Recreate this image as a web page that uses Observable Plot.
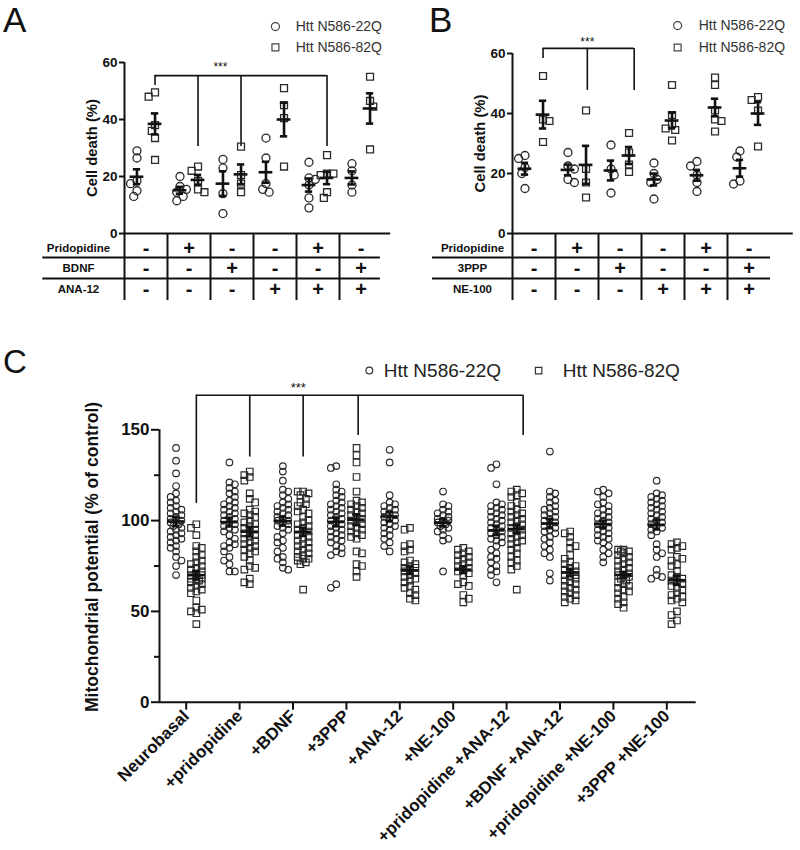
<!DOCTYPE html>
<html><head><meta charset="utf-8">
<script src="https://cdn.jsdelivr.net/npm/d3@7"></script>
<script src="https://cdn.jsdelivr.net/npm/@observablehq/plot@0.6"></script>
<style>
body{margin:0;background:#fff;font-family:"Liberation Sans",Arial,sans-serif}
#fig{position:relative;width:800px;height:850px;overflow:hidden;background:#fff}
.panel{position:absolute}
.letter{position:absolute;color:#111;font-family:"Liberation Sans",Arial,sans-serif;line-height:normal}
</style></head>
<body><div id="fig">
<div class="letter" style="left:3px;top:0;font-size:35px">A</div>
<div class="letter" style="left:429px;top:0;font-size:35px">B</div>
<div class="letter" style="left:3px;top:343px;font-size:33px">C</div>
<div class="panel" id="pA" style="left:0;top:0"></div>
<div class="panel" id="pB" style="left:400px;top:0"></div>
<div class="panel" id="pC" style="left:0;top:340px"></div>
</div>
<script>
// ---------------- DATA ----------------
const seriesNames = ["Htt N586-22Q", "Htt N586-82Q"];

// Panel A: cell death (%), six conditions
const rowLabelsA = ["Pridopidine", "BDNF", "ANA-12"];
const tableA_pridopidine = ["-", "+", "-", "-", "+", "-"];
const tableA_bdnf        = ["-", "-", "+", "-", "-", "+"];
const tableA_ana12       = ["-", "-", "-", "+", "+", "+"];
const cellDeathA_22Q = [
  [29, 26.5, 18.5, 17.5, 15, 13],
  [20, 16.5, 15.5, 14.5, 13, 11.5],
  [23, 26, 14, 7],
  [33.5, 26.5, 17.5, 15.5, 14.5],
  [25, 9, 12.5, 19, 17, 19.5],
  [24.5, 22, 14.5, 17]
];
const cellDeathA_82Q = [
  [49.5, 48, 36, 33.5, 25.8, 38],
  [23.5, 22, 18.5, 15.5, 14.5],
  [30.5, 14.5, 17.5, 20.5],
  [51, 45, 40.5, 23.5],
  [27.5, 12.5, 14.5, 21, 20.5, 21],
  [55, 46.5, 44.5, 29.5]
];

// Panel B: cell death (%), six conditions
const rowLabelsB = ["Pridopidine", "3PPP", "NE-100"];
const tableB_pridopidine = ["-", "+", "-", "-", "+", "-"];
const tableB_3ppp        = ["-", "-", "+", "-", "-", "+"];
const tableB_ne100       = ["-", "-", "-", "+", "+", "+"];
const cellDeathB_22Q = [
  [25, 26, 22, 20, 15],
  [27, 17, 18, 22.5, 21.5],
  [29.5, 21.5, 13.5, 19.5],
  [23.5, 20, 17, 11.5, 18],
  [24, 22.5, 17, 14, 19.5],
  [27.5, 25.5, 16.5, 17.5]
];
const cellDeathB_82Q = [
  [52.5, 38, 37.5, 30.5],
  [41, 12, 17, 21.5],
  [33.5, 20.5, 23, 27],
  [49.5, 36.5, 34.5, 31, 39.5, 35],
  [49.5, 52, 37.5, 34, 38, 41],
  [44.5, 45.5, 41, 29]
];

// Panel C: mitochondrial potential (% of control), ten conditions
const conditionsC = ["Neurobasal", "+pridopidine", "+BDNF", "+3PPP", "+ANA-12", "+NE-100",
  "+pridopidine +ANA-12", "+BDNF +ANA-12", "+pridopidine +NE-100", "+3PPP +NE-100"];
const mitoC_22Q = [
  [140,133,126,119,115,113,111,110,108,107,106,105,104,103,102,101,100,100,99,98,97,96,95,94,93,92,91,90,89,88,86,85,83,80,78,75,70],
  [132,121,120,118,116,115,113,111,110,109,108,107,106,105,104,103,102,101,100,99,98,97,96,95,94,92,90,88,87,86,85,83,80,78,76,72,72],
  [130,127,122,117,116,114,112,110,109,108,107,106,105,104,103,102,101,100,100,99,98,97,96,95,93,91,89,88,85,83,80,79,77,74,73],
  [130,129,120,117,116,114,113,111,110,109,108,107,106,105,104,103,102,101,100,99,98,97,96,95,94,93,92,91,90,89,88,86,85,83,82,81,65,63],
  [139,132,114,110,109,108,107,106,105,104,103,102,101,100,99,98,97,96,95,93,92,90,88,86,83],
  [116,109,108,106,105,104,103,102,101,100,100,99,98,97,96,95,94,92,90,89,72],
  [131,129,120,110,109,108,107,106,105,104,103,102,101,100,99,98,97,96,95,94,93,92,91,90,89,88,86,84,82,80,79,77,75,73,72,70,66],
  [138,116,115,113,111,110,108,107,106,105,104,103,102,101,100,99,98,97,96,95,94,93,91,90,88,86,84,82,80,71,67],
  [117,116,115,113,110,109,108,106,105,104,103,102,101,100,99,98,97,96,95,94,93,92,91,90,89,88,86,84,82,80,77],
  [122,115,114,113,112,111,110,109,108,107,106,105,104,103,102,101,100,99,98,97,96,95,94,92,87,84,82,80,73,70,69,68]
];
const mitoC_82Q = [
  [98,96,92,86,85,83,81,80,78,77,76,75,74,73,72,71,70,70,69,68,67,66,65,64,63,62,61,60,68,67,56,52,51,50,49,43],
  [127,125,124,122,115,112,110,106,105,104,103,102,100,99,98,97,96,95,94,93,92,91,90,89,88,87,86,85,84,83,82,80,78,75,74,73,68,66,65],
  [116,116,115,114,112,110,109,108,106,105,104,102,100,99,98,97,96,95,94,93,92,91,90,89,88,87,86,85,84,83,82,81,80,79,79,78,77,76,62],
  [140,136,132,124,116,111,110,109,108,107,106,105,104,103,102,101,100,99,98,97,96,95,94,93,92,91,90,83,82,76,75,72,69],
  [96,95,87,86,84,83,78,77,76,75,74,74,73,72,71,70,69,68,67,66,64,63,62,60,59,57,56],
  [85,84,83,82,81,80,79,78,77,76,75,74,73,72,71,70,66,65,64,59,57,55],
  [117,116,115,114,113,110,109,108,106,105,104,103,102,101,100,99,98,97,96,95,94,93,92,91,90,89,88,87,85,84,82,80,78,77,75,73,62],
  [94,93,91,88,86,85,81,79,77,76,75,74,73,72,71,70,70,69,68,67,66,65,64,63,62,61,60,59,58,57,56,55],
  [84,84,83,83,82,81,80,79,78,77,76,75,74,73,72,71,70,70,69,68,67,66,65,64,63,62,61,60,58,57,55,54,52],
  [88,87,86,85,84,80,79,78,76,75,72,70,69,68,67,66,65,64,63,62,60,59,58,57,56,55,50,48,45,43]
];

// ---------------- HELPERS ----------------
const FONT = '"Liberation Sans", Arial, sans-serif';
const INK = "#111";

// deterministic beeswarm-like spreading of overlapping points (pixel-space)
function swarmOffsets(values, kY, kX, minDist, step, maxSteps) {
  const order = values.map((v, i) => i).sort((a, b) => values[b] - values[a] || a - b);
  const placed = [];
  const out = new Array(values.length).fill(0);
  let flip = 1;
  for (const i of order) {
    const py = values[i] * kY;
    let best = 0, bestD = -1;
    for (let k = 0; k <= 2 * maxSteps; k++) {
      const s = k === 0 ? 0 : (k % 2 ? 1 : -1) * flip * Math.ceil(k / 2);
      const px = s * step;
      let dmin = Infinity;
      for (const p of placed) dmin = Math.min(dmin, Math.hypot(p[0] - px, p[1] - py));
      if (dmin >= minDist) { best = px; bestD = Infinity; break; }
      if (dmin > bestD) { bestD = dmin; best = px; }
    }
    flip = -flip;
    placed.push([best, py]);
    out[i] = best / kX;
  }
  return out;
}
function buildPoints(g22, g82, off, kY, kX, minDist, step, maxSteps) {
  const pts = [];
  [[g22, 0, -off], [g82, 1, off]].forEach(([gs, s, o]) => gs.forEach((vals, g) => {
    const j = swarmOffsets(vals, kY, kX, minDist, step, maxSteps);
    vals.forEach((v, i) => pts.push({g, s, x: g + o + j[i], y: v}));
  }));
  return pts;
}
function buildStats(g22, g82, off) {
  const st = [];
  [[g22, -off], [g82, off]].forEach(([gs, o]) => gs.forEach((vals, g) => {
    const m = d3.mean(vals), sem = d3.deviation(vals) / Math.sqrt(vals.length);
    st.push({x: g + o, mean: m, lo: m - sem, hi: m + sem});
  }));
  return st;
}
function statMarks(st, halfW, capW, sw) {
  return [
    Plot.ruleY(st, {y: "mean", x1: d => d.x - halfW, x2: d => d.x + halfW, stroke: INK, strokeWidth: sw}),
    Plot.ruleX(st, {x: "x", y1: "lo", y2: "hi", stroke: INK, strokeWidth: sw}),
    Plot.ruleY(st, {y: "hi", x1: d => d.x - capW, x2: d => d.x + capW, stroke: INK, strokeWidth: sw}),
    Plot.ruleY(st, {y: "lo", x1: d => d.x - capW, x2: d => d.x + capW, stroke: INK, strokeWidth: sw})
  ];
}
function dotMarks(pts, rC, rS, sw) {
  return [
    Plot.dot(pts.filter(d => d.s === 0), {x: "x", y: "y", r: rC, symbol: "circle", fill: "none", stroke: "#2a2a2a", strokeWidth: sw}),
    Plot.dot(pts.filter(d => d.s === 1), {x: "x", y: "y", r: rS, symbol: "square", fill: "none", stroke: "#2a2a2a", strokeWidth: sw})
  ];
}
function tableCells(rows) {
  const cells = [];
  rows.forEach((r, ri) => r.forEach((t, ci) => cells.push({row: ri, col: ci, t})));
  return cells;
}

// ---------------- PANEL A / B ----------------
function cellDeathPanel(opts) {
  const {g22, g82, rowLabels, rows, ml, mr, mt, yMin, kY, axisEndX, rowLineY, rowTextY,
         rowLineX1, rowLineX2, labelX, bracket, legendX, legendY} = opts;
  const kX = 43, off = 0.21;
  const pts = buildPoints(g22, g82, off, kY, kX, 6.2, 3.2, 2);
  const st = buildStats(g22, g82, off);
  const cells = tableCells(rows);
  return Plot.plot({
    width: 400, height: 310,
    marginLeft: ml, marginRight: mr, marginTop: mt, marginBottom: 10,
    x: {domain: [-0.5, 5.5], axis: null},
    y: {domain: [yMin, 60], axis: null},
    style: {fontFamily: FONT, overflow: "visible", background: "transparent"},
    marks: [
      Plot.axisY({ticks: [0, 20, 40, 60], tickSize: 5, tickPadding: 2, fontSize: 13.5, fontWeight: "bold",
                  stroke: INK, strokeWidth: 2, fill: INK, label: null}),
      Plot.ruleX([-0.5], {y1: yMin, y2: 60, stroke: INK, strokeWidth: 2}),
      Plot.ruleY([0], {x1: -0.5, x2: axisEndX, stroke: INK, strokeWidth: 2}),
      Plot.ruleY(rowLineY, {x1: rowLineX1, x2: rowLineX2, stroke: INK, strokeWidth: 2}),
      Plot.ruleX([0.5, 1.5, 2.5, 3.5, 4.5], {y1: 0, y2: yMin, stroke: INK, strokeWidth: 2}),
      Plot.text(cells, {x: "col", y: d => rowTextY[d.row], text: "t", fontSize: 20, fontWeight: "bold", fill: INK}),
      Plot.text(rowLabels, {x: labelX, y: (d, i) => rowTextY[i], text: d => d, fontSize: 11.5, fontWeight: "bold", fill: INK}),
      Plot.text(["Cell death (%)"], {x: -0.5, y: 30, dx: -32, rotate: -90, fontSize: 14.8, fontWeight: "bold", fill: INK}),
      // significance bracket
      Plot.ruleY([bracket.top], {x1: bracket.from, x2: d3.max(bracket.to), stroke: INK, strokeWidth: 1.6}),
      Plot.ruleX([bracket.from], {y1: bracket.fromEnd, y2: bracket.top, stroke: INK, strokeWidth: 1.6}),
      Plot.ruleX(bracket.to, {y1: bracket.toEnd, y2: bracket.top, stroke: INK, strokeWidth: 1.6}),
      Plot.text(["***"], {x: bracket.starX, y: bracket.starY, fontSize: 12, fill: INK}),
      ...dotMarks(pts, 4, 3.9, 1.3),
      ...statMarks(st, 0.16, 0.085, 2.6),
      // legend
      Plot.dot([0], {x: legendX[0], y: legendY[0], r: 4, symbol: "circle", fill: "none", stroke: "#444", strokeWidth: 1.2}),
      Plot.dot([0], {x: legendX[0], y: legendY[1], r: 3.9, symbol: "square", fill: "none", stroke: "#444", strokeWidth: 1.2}),
      Plot.text([seriesNames[0]], {x: legendX[1], y: legendY[0], text: d => d, textAnchor: "start", fontSize: 14, fill: "#333"}),
      Plot.text([seriesNames[1]], {x: legendX[1], y: legendY[1], text: d => d, textAnchor: "start", fontSize: 14, fill: "#333"})
    ]
  });
}

const plotA = cellDeathPanel({
  g22: cellDeathA_22Q, g82: cellDeathA_82Q, rowLabels: rowLabelsA,
  rows: [tableA_pridopidine, tableA_bdnf, tableA_ana12],
  ml: 124, mr: 18, mt: 62, yMin: -23.5, kY: 2.85, axisEndX: 5.69,
  rowLineY: [-8.4, -15.8], rowTextY: [-5.3, -12.3, -19.6],
  rowLineX1: -2.4, rowLineX2: 5.45, labelX: -1.57,
  bracket: {top: 55.4, from: 0.21, fromEnd: 51.9, to: [1.21, 2.21, 4.21], toEnd: 30.5, starX: 1.73, starY: 58.2},
  legendX: [3.01, 3.48], legendY: [72.6, 65.3]
});
const plotB = cellDeathPanel({
  g22: cellDeathB_22Q, g82: cellDeathB_82Q, rowLabels: rowLabelsB,
  rows: [tableB_pridopidine, tableB_3ppp, tableB_ne100],
  ml: 112, mr: 30, mt: 53, yMin: -22.33, kY: 3, axisEndX: 6.03,
  rowLineY: [-8, -15], rowTextY: [-5, -11.7, -18.7],
  rowLineX1: -2.36, rowLineX2: 5.5, labelX: -1.43,
  bracket: {top: 61.7, from: 0.21, fromEnd: 58.3, to: [1.24, 2.33], toEnd: 47.7, starX: 1.24, starY: 63.7},
  legendX: [3.34, 3.83], legendY: [69.3, 62]
});
document.getElementById("pA").append(plotA);
document.getElementById("pB").append(plotB);

// ---------------- PANEL C ----------------
{
  const kY = 1.817, kX = 53.4, off = 0.19;
  const pts = buildPoints(mitoC_22Q, mitoC_82Q, off, kY, kX, 5.2, 2.7, 2);
  const st = buildStats(mitoC_22Q, mitoC_82Q, off);
  const plotC = Plot.plot({
    width: 800, height: 510,
    marginLeft: 159, marginRight: 107, marginTop: 89.3, marginBottom: 148.3,
    x: {domain: [-0.5, 9.5], axis: null},
    y: {domain: [0, 150], axis: null},
    style: {fontFamily: FONT, overflow: "visible", background: "transparent"},
    marks: [
      Plot.axisY({ticks: [0, 50, 100, 150], tickSize: 8, tickPadding: 2, fontSize: 17, fontWeight: "bold",
                  stroke: INK, strokeWidth: 2, fill: INK, label: null}),
      Plot.axisY({ticks: [25, 75, 125], tickSize: 5, tickFormat: () => "", stroke: INK, strokeWidth: 2, label: null}),
      Plot.axisX({ticks: d3.range(conditionsC.length), tickFormat: i => conditionsC[i], tickRotate: -45,
                  tickSize: 8, tickPadding: 3, fontSize: 17, fontWeight: "bold",
                  stroke: INK, strokeWidth: 2, fill: INK, label: null}),
      Plot.ruleX([-0.5], {y1: 0, y2: 150, stroke: INK, strokeWidth: 2}),
      Plot.ruleY([0], {x1: -0.5, x2: 9.55, stroke: INK, strokeWidth: 2}),
      Plot.text(["Mitochondrial potential (% of control)"], {x: -0.5, y: 80, dx: -67, rotate: -90,
                  textAnchor: "middle", fontSize: 17.5, fontWeight: "bold", fill: INK}),
      // significance bracket
      Plot.ruleY([169], {x1: 0.19, x2: 6.31, stroke: INK, strokeWidth: 1.6}),
      Plot.ruleX([0.19], {y1: 109.5, y2: 169, stroke: INK, strokeWidth: 1.6}),
      Plot.ruleX([1.19, 2.19], {y1: 135, y2: 169, stroke: INK, strokeWidth: 1.6}),
      Plot.ruleX([3.22, 6.31], {y1: 146.8, y2: 169, stroke: INK, strokeWidth: 1.6}),
      Plot.text(["***"], {x: 2.1, y: 173, fontSize: 13, fill: INK}),
      ...dotMarks(pts, 3.3, 3.7, 1.15),
      ...statMarks(st, 0.16, 0.07, 2.6),
      // legend
      Plot.dot([0], {x: 3.43, y: 182.6, r: 3.4, symbol: "circle", fill: "none", stroke: "#333", strokeWidth: 1.2}),
      Plot.dot([0], {x: 6.6, y: 182.6, r: 3.6, symbol: "square", fill: "none", stroke: "#333", strokeWidth: 1.2}),
      Plot.text([seriesNames[0]], {x: 3.7, y: 182.6, text: d => d, textAnchor: "start", fontSize: 19, fill: "#222"}),
      Plot.text([seriesNames[1]], {x: 7.05, y: 182.6, text: d => d, textAnchor: "start", fontSize: 19, fill: "#222"})
    ]
  });
  document.getElementById("pC").append(plotC);
}
</script>
</body></html>
